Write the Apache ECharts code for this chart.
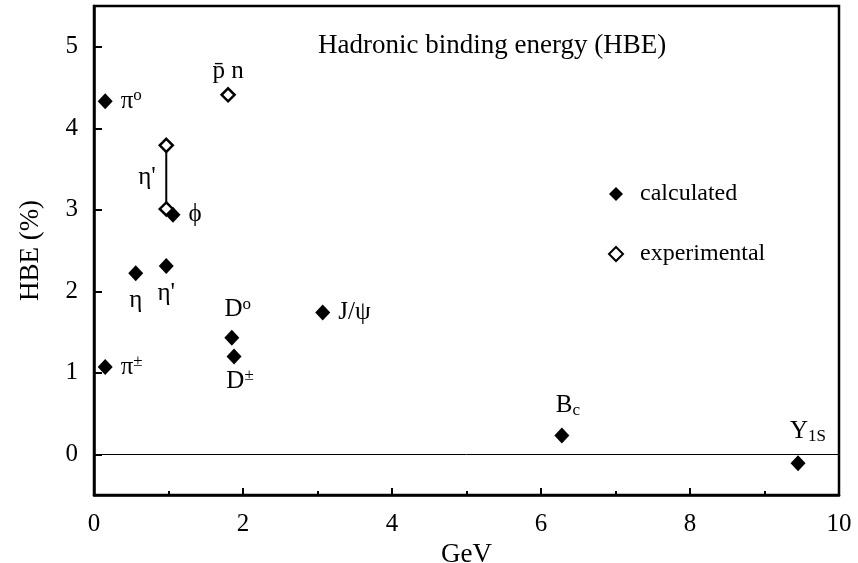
<!DOCTYPE html>
<html>
<head>
<meta charset="utf-8">
<script src="https://cdn.jsdelivr.net/npm/echarts@6/dist/echarts.min.js"></script>
<style>
  html, body { margin: 0; padding: 0; background: #fff; }
  #main { width: 858px; height: 563px; }
</style>
</head>
<body>
<div id="main"></div>
<script>
// calculated HBE values (filled diamonds)
const calcX = [0.15, 0.15, 0.56, 0.97, 1.06, 1.85, 1.88, 3.07, 6.28, 9.45];
const calcY = [4.33, 1.07, 2.22, 2.31, 2.94, 1.43, 1.20, 1.74, 0.23, -0.11];
const calcLabels = [
  "{m|π}{sup|o}", "{m|π}{sup|±}", "{m|η}", "{m|η'}", "{m|ϕ}",
  "{m|D}{sup|o}", "{m|D}{sup|±}", "{m|J/ψ}", "{m|B}{sub|c}", "{m|Υ}{sub|1S}"
];
// experimental HBE values (open diamonds)
const expX = [1.80, 0.97, 0.97];
const expY = [4.41, 3.79, 3.01];
const expLabels = ["{m|p̄ n}", "", ""];
// η' experimental range
const rangeX = [0.97, 0.97];
const rangeY = [3.01, 3.79];

const yTicks = [0, 1, 2, 3, 4, 5];

const font = "Liberation Serif";
const rich = {
  m: { fontFamily: font, fontSize: 25, color: "#000", lineHeight: 28 },
  sup: { fontFamily: font, fontSize: 17, color: "#000", lineHeight: 15, verticalAlign: "top" },
  sub: { fontFamily: font, fontSize: 17, color: "#000", lineHeight: 15, verticalAlign: "bottom", padding: [9, 0, 0, 0] }
};

// label placement for each calculated point
const calcPos = [
  { position: "right", distance: 8 },
  { position: "right", distance: 8 },
  { position: "bottom", distance: 5 },
  { position: "bottom", distance: 5 },
  { position: "right", distance: 8 },
  { position: "top", distance: 6, offset: [6, 0] },
  { position: "bottom", distance: 3, offset: [6, 0] },
  { position: "right", distance: 8 },
  { position: "top", distance: 8, offset: [6, 0] },
  { position: "top", distance: 10, offset: [10, 0] }
];

const calcData = calcX.map((x, i) => ({
  value: [x, calcY[i]],
  label: Object.assign({ show: true, formatter: calcLabels[i], rich: rich }, calcPos[i])
}));
const expData = expX.map((x, i) => ({
  value: [x, expY[i]],
  label: { show: expLabels[i] !== "", formatter: expLabels[i], rich: rich, position: "top", distance: 2 }
}));
const rangeData = rangeX.map((x, i) => [x, rangeY[i]]);

const chart = echarts.init(document.getElementById("main"));
chart.setOption({
  animation: false,
  backgroundColor: "#fff",
  textStyle: { fontFamily: font, color: "#000" },
  title: {
    text: "Hadronic binding energy (HBE)",
    left: 313,
    top: 27,
    textStyle: { fontFamily: font, fontSize: 27, fontWeight: "normal", color: "#000" }
  },
  legend: {
    orient: "vertical",
    left: 603,
    top: 177,
    itemGap: 36,
    itemWidth: 14,
    itemHeight: 14,
    textStyle: { fontFamily: font, fontSize: 24, color: "#000", padding: [0, 0, 0, 12] },
    data: [
      { name: "calculated", icon: "diamond" },
      { name: "experimental", icon: "diamond" }
    ]
  },
  grid: {
    left: 94, right: 19, top: 6, bottom: 68,
    outerBoundsMode: "none",
    show: true, borderColor: "#000", borderWidth: 2.5
  },
  xAxis: {
    type: "value",
    min: 0, max: 10, interval: 2,
    name: "GeV",
    nameLocation: "middle",
    nameGap: 40,
    nameTextStyle: { fontFamily: font, fontSize: 27, color: "#000" },
    axisLine: { show: true, onZero: false, lineStyle: { color: "#000", width: 2.5 } },
    axisTick: { show: true, inside: true, length: 7, lineStyle: { color: "#000", width: 2 } },
    minorTick: { show: true, splitNumber: 2, length: 4, lineStyle: { color: "#000", width: 2 } },
    axisLabel: { fontFamily: font, fontSize: 25, color: "#000", margin: 17 },
    splitLine: { show: false }
  },
  yAxis: {
    type: "value",
    min: -0.5, max: 5.5,
    name: "HBE (%)",
    nameLocation: "middle",
    nameRotate: 90,
    nameGap: 50,
    nameTextStyle: { fontFamily: font, fontSize: 27, color: "#000" },
    axisLine: { show: true, onZero: false, lineStyle: { color: "#000", width: 2.5 } },
    axisTick: { show: true, inside: true, length: 8, customValues: yTicks, lineStyle: { color: "#000", width: 2 } },
    axisLabel: { fontFamily: font, fontSize: 25, color: "#000", margin: 16, customValues: yTicks },
    splitLine: { show: false }
  },
  series: [
    {
      name: "range",
      type: "line",
      data: rangeData,
      symbol: "none",
      lineStyle: { color: "#000", width: 2 },
      endLabel: { show: true, formatter: "{m|η'}", rich: rich, offset: [-36, 32] },
      z: 1
    },
    {
      name: "calculated",
      type: "scatter",
      data: calcData,
      symbol: "diamond",
      symbolSize: [15, 16],
      itemStyle: { color: "#000", opacity: 1 },
      markLine: {
        silent: true,
        symbol: "none",
        label: { show: false },
        lineStyle: { color: "#000", width: 1, type: "solid", opacity: 1 },
        data: [{ yAxis: 0 }]
      },
      z: 3
    },
    {
      name: "experimental",
      type: "scatter",
      data: expData,
      symbol: "diamond",
      symbolSize: 13,
      itemStyle: { color: "#fff", borderColor: "#000", borderWidth: 2.5, opacity: 1 },
      z: 4
    }
  ]
});
</script>
</body>
</html>
